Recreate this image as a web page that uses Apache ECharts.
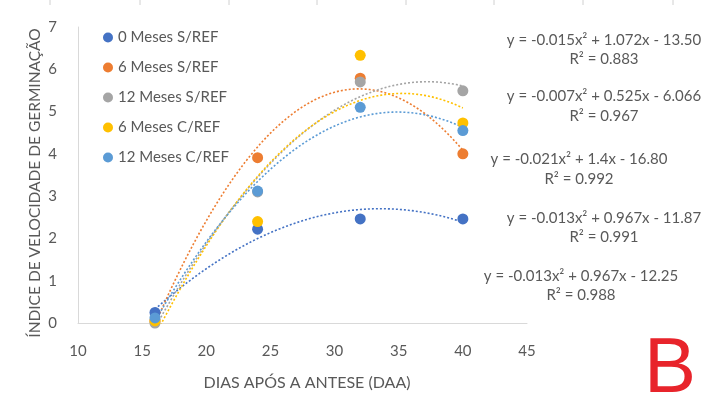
<!DOCTYPE html>
<html><head><meta charset="utf-8">
<script src="https://cdn.jsdelivr.net/npm/echarts@6/dist/echarts.min.js"></script>
<style>html,body{margin:0;padding:0;background:#fff}#c{width:709px;height:404px}</style>
</head><body><div id="c"></div>
<script>
// Data
var xDays = [16, 24, 32, 40];
var seriesNames = ['0 Meses S/REF', '6 Meses S/REF', '12 Meses S/REF', '6 Meses C/REF', '12 Meses C/REF'];
var s0 = [0.25, 2.22, 2.46, 2.46];
var s6 = [0.05, 3.91, 5.79, 4.00];
var s12 = [0.00, 3.10, 5.70, 5.49];
var c6 = [0.05, 2.40, 6.33, 4.73];
var c12 = [0.12, 3.12, 5.10, 4.55];
var colors = ['#4472C4', '#ED7D31', '#A5A5A5', '#FFC000', '#5B9BD5'];
var equations = [
  ['y = -0.015x² + 1.072x - 13.50', 'R² = 0.883'],
  ['y = -0.007x² + 0.525x - 6.066', 'R² = 0.967'],
  ['y = -0.021x² + 1.4x - 16.80', 'R² = 0.992'],
  ['y = -0.013x² + 0.967x - 11.87', 'R² = 0.991'],
  ['y = -0.013x² + 0.967x - 12.25', 'R² = 0.988']
];
var xTicks = {min: 10, max: 45, interval: 5};
var yTicks = {min: 0, max: 7, interval: 1};
var xTitle = 'DIAS APÓS A ANTESE (DAA)';
var yTitle = 'ÍNDICE DE VELOCIDADE DE GERMINAÇÃO';
var panelLetter = 'B';

var allValues = [s0, s6, s12, c6, c12];

// quadratic least-squares trendline (as in the original spreadsheet chart)
function quadFit(xs, ys) {
  var n = xs.length, S = [0,0,0,0,0], T = [0,0,0];
  for (var i = 0; i < n; i++) {
    var p = 1;
    for (var k = 0; k <= 4; k++) { S[k] += p; if (k <= 2) T[k] += p * ys[i]; p *= xs[i]; }
  }
  var M = [[S[0],S[1],S[2],T[0]],[S[1],S[2],S[3],T[1]],[S[2],S[3],S[4],T[2]]];
  for (var c = 0; c < 3; c++) {
    for (var r = c + 1; r < 3; r++) {
      var f = M[r][c] / M[c][c];
      for (var j = c; j < 4; j++) M[r][j] -= f * M[c][j];
    }
  }
  var b = [0,0,0];
  for (var r2 = 2; r2 >= 0; r2--) {
    var s = M[r2][3];
    for (var j2 = r2 + 1; j2 < 3; j2++) s -= M[r2][j2] * b[j2];
    b[r2] = s / M[r2][r2];
  }
  return b;
}
function trend(ys) {
  var b = quadFit(xDays, ys), pts = [];
  for (var x = xDays[0]; x <= xDays[xDays.length - 1] + 1e-9; x += 0.25) {
    pts.push([x, b[0] + b[1] * x + b[2] * x * x]);
  }
  return pts;
}

var font = 'Lato, "Open Sans", sans-serif';
var txt = '#595959';
var series = [];
allValues.forEach(function (vals, i) {
  series.push({
    name: seriesNames[i] + ' trend', type: 'line', data: trend(vals), showSymbol: false, smooth: false,
    lineStyle: {color: colors[i], type: [2, 2], width: 1.6}, silent: true, z: 1
  });
});
allValues.forEach(function (vals, i) {
  series.push({
    name: seriesNames[i], type: 'scatter', symbolSize: 11, z: 3,
    itemStyle: {color: colors[i], opacity: 1},
    data: xDays.map(function (x, j) { return [x, vals[j]]; })
  });
});

var graphics = [];
var eqPos = [[604, 40, 59], [604, 96, 116], [579, 159, 179], [604, 218, 237], [581, 276, 295]];
equations.forEach(function (e, i) {
  graphics.push({type: 'text', x: eqPos[i][0], y: eqPos[i][1],
    style: {text: e[0], fill: txt, font: '15px ' + font, textAlign: 'center', textVerticalAlign: 'middle'}});
  graphics.push({type: 'text', x: eqPos[i][0], y: eqPos[i][2],
    style: {text: e[1], fill: txt, font: '15px ' + font, textAlign: 'center', textVerticalAlign: 'middle'}});
});
graphics.push({type: 'text', x: 35, y: 183, rotation: Math.PI / 2,
  style: {text: yTitle, fill: txt, font: '15.5px ' + font, textAlign: 'center', textVerticalAlign: 'middle'}});
graphics.push({type: 'text', x: 670, y: 370,
  style: {text: panelLetter, fill: '#E8242B', font: '78px "Liberation Sans", Arial, sans-serif', textAlign: 'center', textVerticalAlign: 'middle'}});
[50, 140, 229, 317, 406, 494, 583, 673].forEach(function (x) {
  graphics.push({type: 'line', shape: {x1: x, y1: 0, x2: x, y2: 5}, style: {stroke: '#D0D0D0', lineWidth: 1}});
});

var chart = echarts.init(document.getElementById('c'));
chart.setOption({
  animation: false,
  backgroundColor: '#fff',
  grid: {left: 78, right: 182, top: 27, bottom: 81},
  legend: {
    data: seriesNames, orient: 'vertical', left: 103, top: 30, padding: 0, icon: 'circle',
    itemWidth: 10, itemHeight: 10, itemGap: 15, selectedMode: false,
    textStyle: {color: txt, fontSize: 15, fontFamily: font}
  },
  xAxis: {
    type: 'value', min: xTicks.min, max: xTicks.max, interval: xTicks.interval,
    name: xTitle, nameLocation: 'middle', nameGap: 52,
    nameTextStyle: {color: txt, fontSize: 16, fontFamily: font, padding: [0, 0, 0, 9]},
    axisLine: {show: true, lineStyle: {color: '#D9D9D9'}}, axisTick: {show: false},
    axisLabel: {color: txt, fontSize: 15, margin: 21, fontFamily: font},
    splitLine: {show: false}
  },
  yAxis: {
    type: 'value', min: yTicks.min, max: yTicks.max, interval: yTicks.interval,
    axisLine: {show: true, lineStyle: {color: '#D9D9D9'}}, axisTick: {show: false},
    axisLabel: {color: txt, fontSize: 15, margin: 21, fontFamily: font},
    splitLine: {show: false}
  },
  series: series,
  graphic: graphics
});
</script></body></html>
